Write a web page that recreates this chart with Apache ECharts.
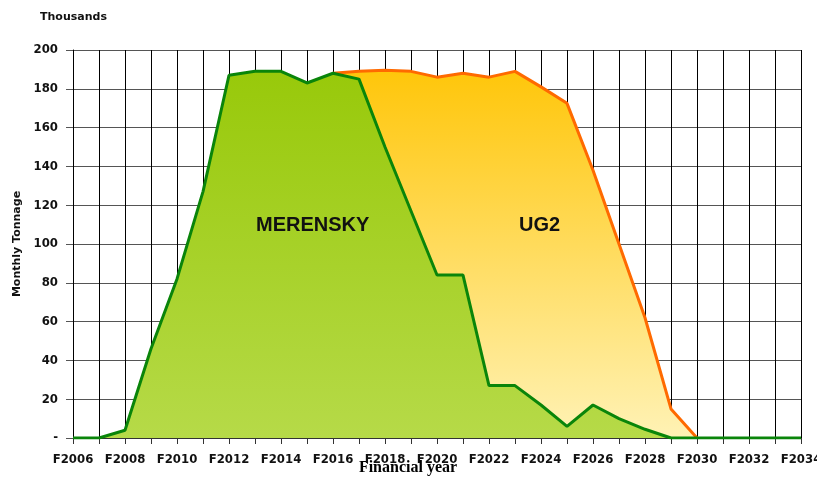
<!DOCTYPE html>
<html>
<head>
<meta charset="utf-8">
<script src="https://cdn.jsdelivr.net/npm/echarts@6/dist/echarts.min.js"></script>
<style>
  html, body { margin: 0; padding: 0; background: #fff; }
  #chart { width: 817px; height: 477px; }
</style>
</head>
<body>
<div id="chart"></div>
<script>
var years = [];
for (var y = 2006; y <= 2034; y++) years.push('F' + y);

// thousand tonnes per month
var merensky = [0, 0, 4, 46, 82, 127, 187, 189, 189, 183, 188, 185, 150, 117, 84, 84, 27, 27, 17, 6, 17, 10, 4.5, 0, 0, 0, 0, 0, 0];
// top of the UG2 area (total of both reefs)
var ug2Total = [null, null, null, null, null, null, null, null, null, null, 188, 189, 189.5, 189, 186, 188, 186, 189, 181, 172.5, 138, 100, 62, 15, 0, null, null, null, null];

var yTicks = [0, 20, 40, 60, 80, 100, 120, 140, 160, 180, 200];

var chart = echarts.init(document.getElementById('chart'), null, { renderer: 'canvas' });

var font = 'DejaVu Sans, Verdana, sans-serif';
var tickFont = 'DejaVu Sans Condensed, DejaVu Sans, sans-serif';

var option = {
  backgroundColor: '#ffffff',
  animation: false,
  grid: { left: 73, right: 16, top: 50, bottom: 39, containLabel: false, outerBoundsMode: 'none' },
  xAxis: {
    type: 'category',
    data: years,
    boundaryGap: false,
    axisLine: { show: true, lineStyle: { color: '#333', width: 1 } },
    axisTick: { show: true, interval: 0, length: 6, lineStyle: { color: '#333' } },
    axisLabel: { interval: 1, color: '#111', fontFamily: tickFont, fontWeight: 'bold', fontSize: 13, margin: 15, hideOverlap: false },
    splitLine: { show: true, interval: 0, lineStyle: { color: '#000', width: 1 } },
    name: 'Financial year',
    nameLocation: 'middle',
    nameGap: 22,
    nameMoveOverlap: false,
    nameTextStyle: { color: '#000', fontFamily: 'Liberation Serif, Times New Roman, serif', fontWeight: 'bold', fontSize: 16, padding: [0, 58, 0, 0] }
  },
  yAxis: {
    type: 'value',
    min: yTicks[0],
    max: yTicks[yTicks.length - 1],
    interval: 20,
    axisLine: { show: true, lineStyle: { color: '#000', width: 1 } },
    axisTick: { show: true, length: 7, lineStyle: { color: '#555' } },
    axisLabel: {
      color: '#111', fontFamily: tickFont, fontWeight: 'bold', fontSize: 13, margin: 15,
      formatter: function (v) { return v === 0 ? '-' : v; }
    },
    splitLine: { show: true, lineStyle: { color: '#555', width: 1 } },
    name: 'Monthly Tonnage',
    nameLocation: 'middle',
    nameGap: 50,
    nameMoveOverlap: false,
    nameTextStyle: { color: '#111', fontFamily: font, fontWeight: 'bold', fontSize: 11 }
  },
  graphic: [
    { type: 'text', z: 100, left: 40, top: 12, style: { text: 'Thousands', fill: '#111', font: 'bold 11px ' + font } },
    { type: 'text', z: 100, left: 256, top: 215, style: { text: 'MERENSKY', fill: '#111', font: 'bold 20px Liberation Sans, Arial, sans-serif' } },
    { type: 'text', z: 100, left: 519, top: 215, style: { text: 'UG2', fill: '#111', font: 'bold 20px Liberation Sans, Arial, sans-serif' } }
  ],
  series: [
    {
      name: 'UG2',
      type: 'line',
      data: ug2Total,
      symbol: 'none',
      z: 2,
      lineStyle: { color: '#ff6a00', width: 3 },
      areaStyle: {
        opacity: 1,
        color: new echarts.graphic.LinearGradient(0, 0, 0, 1, [
          { offset: 0, color: '#ffc60a' },
          { offset: 1, color: '#fff2b5' }
        ])
      }
    },
    {
      name: 'MERENSKY',
      type: 'line',
      data: merensky,
      symbol: 'none',
      z: 3,
      lineStyle: { color: '#0a850a', width: 3 },
      areaStyle: {
        opacity: 1,
        color: new echarts.graphic.LinearGradient(0, 0, 0, 1, [
          { offset: 0, color: '#98c90a' },
          { offset: 1, color: '#b6da48' }
        ])
      }
    }
  ]
};

chart.setOption(option);
</script>
</body>
</html>
